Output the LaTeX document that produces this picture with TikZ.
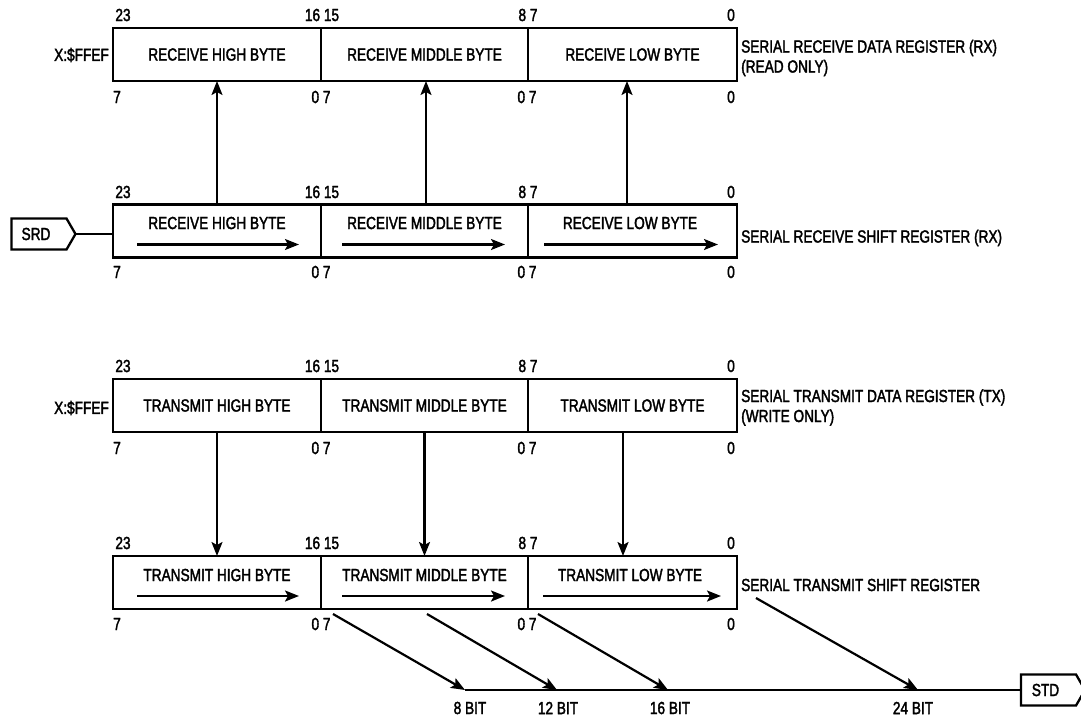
\documentclass[tikz,border=0pt]{standalone}
\usepackage{fontspec}
\setmainfont{Liberation Sans}[FakeStretch=0.78,FakeBold=2]
\usetikzlibrary{arrows.meta,shapes.symbols}
\begin{document}
\begin{tikzpicture}[x=1pt,y=-1pt,
  sect/.style={draw, line width=2.3pt, inner sep=0pt, outer sep=0pt, minimum height=53pt,
    font=\fontsize{17.5}{20}\selectfont},
  txt/.style={font=\fontsize{17.5}{20}\selectfont, inner sep=0pt},
  arr/.style={line width=2.2pt, -{Stealth[length=14pt,width=11pt,inset=3pt]}},
  wire/.style={line width=2.2pt},
  port/.style={draw, line width=2.3pt, signal, signal to=east, signal pointer angle=120,
    minimum width=64pt, minimum height=31pt, inner sep=0pt, outer sep=0pt,
    font=\fontsize{17.5}{20}\selectfont}
]
\useasboundingbox (0,0) rectangle (1081,726);

% ---- Receive data register
\node[sect, minimum width=208pt] (rdrH) at (217,54.5) {RECEIVE HIGH BYTE};
\node[sect, minimum width=207pt] (rdrM) at (424.5,54.5) {RECEIVE MIDDLE BYTE};
\node[sect, minimum width=209pt] (rdrL) at (632.5,54.5) {RECEIVE LOW BYTE};
\node[txt, anchor=east] (rdrAddr) at (109,55) {X:\$FFEF};
\node[txt, anchor=west, align=left] (rdrName) at (741,58) {SERIAL RECEIVE DATA REGISTER (RX)\\(READ ONLY)};

% ---- Receive shift register
\node[sect, minimum width=208pt] (rshH) at (217,231) {};
\node[sect, minimum width=207pt] (rshM) at (424.5,231) {};
\node[sect, minimum width=209pt] (rshL) at (632.5,231) {};
\node[txt] (rshHt) at (217,223) {RECEIVE HIGH BYTE};
\node[txt] (rshMt) at (424.5,223) {RECEIVE MIDDLE BYTE};
\node[txt] (rshLt) at (630,223) {RECEIVE LOW BYTE};
\draw[arr] ([shift={(24,-13)}]rshH.south west) -- ([shift={(-22,-13)}]rshH.south east);
\draw[arr] ([shift={(21,-13)}]rshM.south west) -- ([shift={(-23,-13)}]rshM.south east);
\draw[arr] ([shift={(16,-13)}]rshL.south west) -- ([shift={(-19,-13)}]rshL.south east);
\node[txt, anchor=west] (rshName) at (741,238) {SERIAL RECEIVE SHIFT REGISTER (RX)};
\node[port] (srd) at (39,234) {SRD\hspace*{6pt}};
\draw[wire] (srd.east) -- (srd.east -| rshH.west);

% receive transfers
\draw[arr] (rshH.north) -- (rdrH.south);
\draw[arr] ([xshift=1.5pt]rshM.north) -- ([xshift=1.5pt]rdrM.south);
\draw[arr] ([xshift=-5.5pt]rshL.north) -- ([xshift=-5.5pt]rdrL.south);

% ---- Transmit data register
\node[sect, minimum width=208pt] (tdrH) at (217,405.5) {TRANSMIT HIGH BYTE};
\node[sect, minimum width=207pt] (tdrM) at (424.5,405.5) {TRANSMIT MIDDLE BYTE};
\node[sect, minimum width=209pt] (tdrL) at (632.5,405.5) {TRANSMIT LOW BYTE};
\node[txt, anchor=east] (tdrAddr) at (109,408) {X:\$FFEF};
\node[txt, anchor=west, align=left] (tdrName) at (741,407.5) {SERIAL TRANSMIT DATA REGISTER (TX)\\(WRITE ONLY)};

% ---- Transmit shift register
\node[sect, minimum width=208pt] (tshH) at (217,582.5) {};
\node[sect, minimum width=207pt] (tshM) at (424.5,582.5) {};
\node[sect, minimum width=209pt] (tshL) at (632.5,582.5) {};
\node[txt] (tshHt) at (217,575) {TRANSMIT HIGH BYTE};
\node[txt] (tshMt) at (424.5,575) {TRANSMIT MIDDLE BYTE};
\node[txt] (tshLt) at (630,575) {TRANSMIT LOW BYTE};
\draw[arr] ([shift={(24,-13)}]tshH.south west) -- ([shift={(-22,-13)}]tshH.south east);
\draw[arr] ([shift={(21,-13)}]tshM.south west) -- ([shift={(-23,-13)}]tshM.south east);
\draw[arr] ([shift={(15,-13)}]tshL.south west) -- ([shift={(-16,-13)}]tshL.south east);
\node[txt, anchor=west] (tshName) at (741,585) {SERIAL TRANSMIT SHIFT REGISTER};

% transmit transfers
\draw[arr] (tdrH.south) -- (tshH.north);
\draw[arr] (tdrM.south) -- (tshM.north);
\draw[arr] ([xshift=-9.5pt]tdrL.south) -- ([xshift=-9.5pt]tshL.north);

% ---- bit numbers
\foreach \t/\b in {15/97, 192/272, 366/448, 543/624}{
  \node[txt] (n23-\t) at (123,\t) {23};
  \node[txt] (n1615-\t) at (322,\t) {16 15};
  \node[txt] (n87-\t) at (528,\t) {8 7};
  \node[txt] (n0t-\t) at (731,\t) {0};
  \node[txt] (n7-\b) at (117,\b) {7};
  \node[txt] (n07a-\b) at (321,\b) {0 7};
  \node[txt] (n07b-\b) at (527,\b) {0 7};
  \node[txt] (n0b-\b) at (731,\b) {0};
}

% ---- serial transmit output
\node[port] (std) at (1048.5,690) {STD\hspace*{6pt}};
\coordinate (b8) at (465,690);
\coordinate (b12) at (557,690);
\coordinate (b16) at (668,690);
\coordinate (b24) at (918,690);
\coordinate (s1) at (333,614);
\coordinate (s2) at (427,614);
\coordinate (s3) at (538,614);
\coordinate (s4) at (756,598);
\draw[wire] (b8) -- (std.west);
\draw[arr] (s1) -- (b8);
\draw[arr] (s2) -- (b12);
\draw[arr] (s3) -- (b16);
\draw[arr] (s4) -- (b24);
\node[txt] (l8) at (470,708) {8 BIT};
\node[txt] (l12) at (558,708) {12 BIT};
\node[txt] (l16) at (670,708) {16 BIT};
\node[txt] (l24) at (913,708) {24 BIT};
\end{tikzpicture}
\end{document}
